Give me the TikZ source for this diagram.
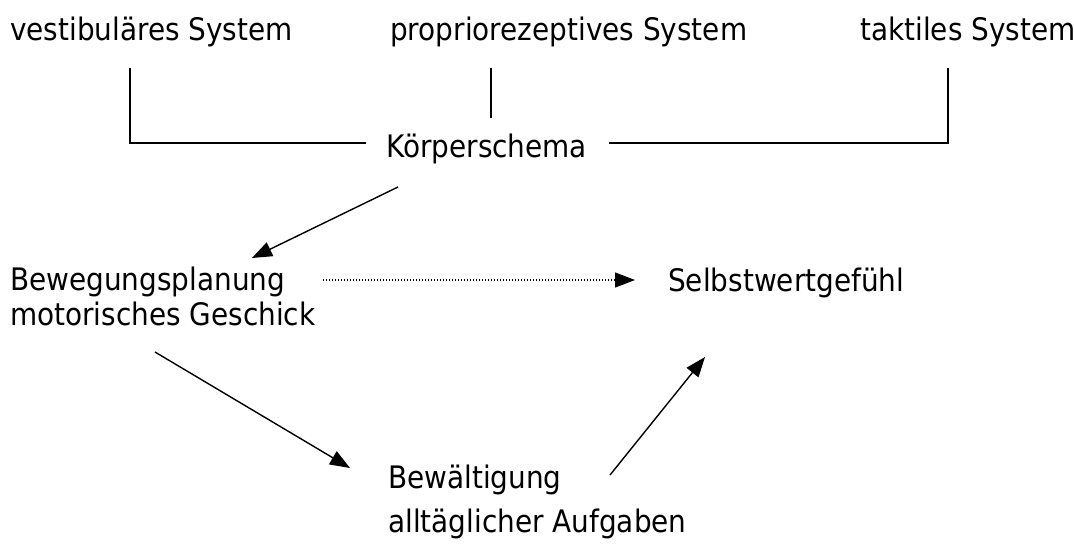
\documentclass[tikz,border=0pt]{standalone}
\usepackage{fontspec}
\setmainfont{DejaVu Sans}[FakeStretch=0.9]
\usetikzlibrary{arrows.meta}
\tikzset{
  lbl/.style={anchor=base west, inner sep=0pt, font=\fontsize{31}{35}\selectfont},
  lbltwo/.style={lbl, anchor=north west, align=left},
  conn/.style={line width=1.4pt},
  arr/.style={conn, -{Triangle[length=20pt,width=15pt]}},
  dotarr/.style={arr, line width=1.2pt, dash pattern=on 1.2pt off 1.8pt}
}
\begin{document}
\begin{tikzpicture}[x=1pt,y=-1pt]
            \useasboundingbox (0,0) rectangle (1075,546);
            \node[lbl] (vest) at (10,40) {vestibuläres System};
            \node[lbl] (prop) at (390,40) {propriorezeptives System};
            \node[lbl] (takt) at (860,40) {taktiles System};
            \node[lbl] (koerper) at (386,157) {Körperschema};
            \node[lbltwo] (beweg) at (10,267) {Bewegungsplanung\\motorisches Geschick};
            \node[lbl] (selbst) at (668,291) {Selbstwertgefühl};
            \node[lbltwo] (bewalt) at (388,465) {Bewältigung\\[9pt]alltäglicher Aufgaben};

            \draw[conn] ([shift={(120,28)}]vest.base west) |- ([shift={(-20,-14)}]koerper.base west);
            \draw[conn] ([shift={(101,28)}]prop.base west) -- ++(0,50);
            \draw[conn] ([shift={(88,28)}]takt.base west) |- ([shift={(22,-14)}]koerper.base east);
            \draw[arr] ([shift={(12,30)}]koerper.base west) -- ([shift={(242,-9)}]beweg.north west);
            \draw[dotarr] ([shift={(313,13)}]beweg.north west) -- ([shift={(-33,-11)}]selbst.base west);
            \draw[arr] ([shift={(145,85)}]beweg.north west) -- ([shift={(-38,3)}]bewalt.north west);
            \draw[arr] ([shift={(222,10)}]bewalt.north west) -- ([shift={(37,66)}]selbst.base west);
        \end{tikzpicture}
\end{document}
